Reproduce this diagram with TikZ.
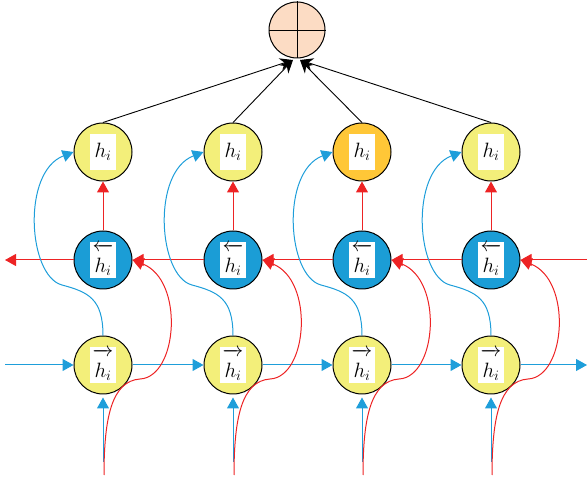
\documentclass[tikz,border=0pt]{standalone}
\usepackage{tikz}
\usepackage{xcolor}
\usetikzlibrary{arrows.meta}
\definecolor{cellyellow}{RGB}{243,239,122}
\definecolor{cellorange}{RGB}{255,199,55}
\definecolor{cellblue}{RGB}{27,157,214}
\definecolor{outpeach}{RGB}{252,220,196}
\definecolor{linkred}{RGB}{237,35,36}
\definecolor{linkblue}{RGB}{30,158,218}
\newcommand{\lbl}[1]{{\setlength{\fboxsep}{0pt}\colorbox{white}{\parbox[c][36pt][c]{26pt}{\centering\huge$#1$}}}}
\newcommand{\fwlbl}{\lbl{\overrightarrow{\rule{0pt}{1.05em}h_i}}}
\newcommand{\bwlbl}{\lbl{\overleftarrow{\rule{0pt}{1.05em}h_i}}}

\begin{document}
\begin{tikzpicture}[
    x=1pt,y=1pt,
    cell/.style={circle,draw=black,line width=1pt,minimum size=58pt,inner sep=0pt},
    fwd/.style={cell,fill=cellyellow},
    bwd/.style={cell,fill=cellblue},
    hid/.style={cell,fill=cellyellow},
    sel/.style={cell,fill=cellorange},
    blink/.style={-{Triangle[length=11pt,width=12pt]},draw=linkblue,line width=1pt},
    rlink/.style={-{Triangle[length=11pt,width=12pt]},draw=linkred,line width=1pt},
    merge/.style={-{Stealth[length=13pt,width=12pt]},draw=black,line width=0.9pt}
  ]
    \useasboundingbox (0,0) rectangle (587,477);

    \node[circle,draw=black,line width=1pt,fill=outpeach,minimum size=56pt,inner sep=0pt] (out) at (297,447) {};
    \draw[line width=0.9pt] (out.north) -- (out.south);
    \draw[line width=0.9pt] (out.west) -- (out.east);

    \node[hid] (h1) at (103,325) {\lbl{h_i}};
    \node[hid] (h2) at (233,325) {\lbl{h_i}};
    \node[sel] (h3) at (362,325) {\lbl{h_i}};
    \node[hid] (h4) at (491,325) {\lbl{h_i}};

    \node[bwd] (bw1) at (103,217) {\bwlbl};
    \node[bwd] (bw2) at (233,217) {\bwlbl};
    \node[bwd] (bw3) at (362,217) {\bwlbl};
    \node[bwd] (bw4) at (491,217) {\bwlbl};

    \node[fwd] (fw1) at (103,112) {\fwlbl};
    \node[fwd] (fw2) at (233,112) {\fwlbl};
    \node[fwd] (fw3) at (362,112) {\fwlbl};
    \node[fwd] (fw4) at (491,112) {\fwlbl};

    \coordinate (tipL) at (293,417);
    \coordinate (tipR) at (300,417);
    \coordinate (fwin) at (5,112);
    \coordinate (fwout) at (587,112);
    \coordinate (bwin) at (587,217);
    \coordinate (bwout) at (5,217);
    \coordinate (x1) at (104,2);
    \coordinate (x2) at (234,2);
    \coordinate (x3) at (363,2);
    \coordinate (x4) at (492,2);

    % merge into the output
    \draw[merge] (h1.north) -- (tipL);
    \draw[merge] (h2.north) -- (tipL);
    \draw[merge] (h3.north) -- (tipR);
    \draw[merge] (h4.north) -- (tipR);

    % forward chain
    \draw[blink] (fwin) -- (fw1);
    \draw[blink] (fw1) -- (fw2);
    \draw[blink] (fw2) -- (fw3);
    \draw[blink] (fw3) -- (fw4);
    \draw[blink] (fw4) -- (fwout);

    % backward chain
    \draw[rlink] (bwin) -- (bw4);
    \draw[rlink] (bw4) -- (bw3);
    \draw[rlink] (bw3) -- (bw2);
    \draw[rlink] (bw2) -- (bw1);
    \draw[rlink] (bw1) -- (bwout);

    % backward states up to h
    \draw[rlink] (bw1) -- (h1);
    \draw[rlink] (bw2) -- (h2);
    \draw[rlink] (bw3) -- (h3);
    \draw[rlink] (bw4) -- (h4);

    % inputs
    \draw[blink,shorten >=3pt] ([shift={(-1,13)}]x1) -- (fw1);
    \draw[blink,shorten >=3pt] ([shift={(-1,13)}]x2) -- (fw2);
    \draw[blink,shorten >=3pt] ([shift={(-1,13)}]x3) -- (fw3);
    \draw[blink,shorten >=3pt] ([shift={(-1,13)}]x4) -- (fw4);

    \draw[rlink] (x1) .. controls +(0,58) and +(-28,-2) .. ([shift={(37,-14)}]fw1.center)
      .. controls +(38,2) and +(52,-20) .. (bw1.east);
    \draw[rlink] (x2) .. controls +(0,58) and +(-28,-2) .. ([shift={(37,-14)}]fw2.center)
      .. controls +(38,2) and +(52,-20) .. (bw2.east);
    \draw[rlink] (x3) .. controls +(0,58) and +(-28,-2) .. ([shift={(37,-14)}]fw3.center)
      .. controls +(38,2) and +(52,-20) .. (bw3.east);
    \draw[rlink] (x4) .. controls +(0,58) and +(-28,-2) .. ([shift={(37,-14)}]fw4.center)
      .. controls +(38,2) and +(52,-20) .. (bw4.east);

    % forward states up to h
    \draw[blink] (fw1.north) .. controls +(0,37) and +(26,-7) .. ([shift={(-41,80)}]fw1.center)
      .. controls +(-34,9) and +(-52,-20) .. (h1.west);
    \draw[blink] (fw2.north) .. controls +(0,37) and +(26,-7) .. ([shift={(-41,80)}]fw2.center)
      .. controls +(-34,9) and +(-52,-20) .. (h2.west);
    \draw[blink] (fw3.north) .. controls +(0,37) and +(26,-7) .. ([shift={(-41,80)}]fw3.center)
      .. controls +(-34,9) and +(-52,-20) .. (h3.west);
    \draw[blink] (fw4.north) .. controls +(0,37) and +(26,-7) .. ([shift={(-41,80)}]fw4.center)
      .. controls +(-34,9) and +(-52,-20) .. (h4.west);
  \end{tikzpicture}
\end{document}
